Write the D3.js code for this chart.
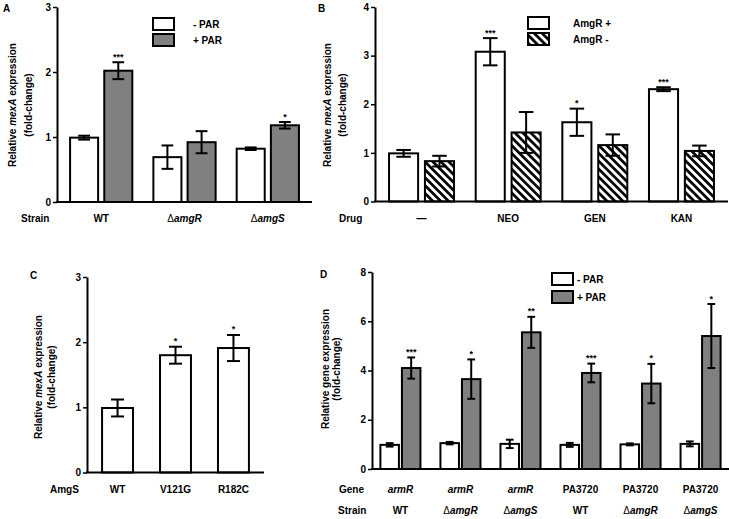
<!DOCTYPE html>
<html><head><meta charset="utf-8">
<script src="https://cdn.jsdelivr.net/npm/d3@7"></script>
<style>
body{margin:0;background:#fff}
svg text{font-family:"Liberation Sans",Arial,Helvetica,sans-serif;font-weight:bold;fill:#000}
</style></head><body>
<svg id="chart" width="729" height="519"></svg>
<script>
// ---------- DATA ----------
// Panel A
const catsA = ["WT", "ΔamgR", "ΔamgS"];
const minusParA = [0.99, 0.69, 0.82];
const minusParErrA = [0.03, 0.18, 0.02];
const minusParSigA = ["", "", ""];
const plusParA = [2.02, 0.92, 1.18];
const plusParErrA = [0.13, 0.17, 0.05];
const plusParSigA = ["***", "", "*"];
const ticksA = [0, 1, 2, 3];

// Panel B
const catsB = ["—", "NEO", "GEN", "KAN"];
const amgRPlusB = [0.99, 3.08, 1.63, 2.31];
const amgRPlusErrB = [0.07, 0.28, 0.28, 0.04];
const amgRPlusSigB = ["", "***", "*", "***"];
const amgRMinusB = [0.83, 1.42, 1.16, 1.04];
const amgRMinusErrB = [0.11, 0.42, 0.22, 0.11];
const amgRMinusSigB = ["", "", "", ""];
const ticksB = [0, 1, 2, 3, 4];

// Panel C
const catsC = ["WT", "V121G", "R182C"];
const valuesC = [0.99, 1.80, 1.91];
const errC = [0.13, 0.13, 0.20];
const sigC = ["", "*", "*"];
const ticksC = [0, 1, 2, 3];

// Panel D
const genesD = ["armR", "armR", "armR", "PA3720", "PA3720", "PA3720"];
const strainsD = ["WT", "ΔamgR", "ΔamgS", "WT", "ΔamgR", "ΔamgS"];
const minusParD = [0.98, 1.05, 1.02, 0.98, 1.00, 1.02];
const minusParErrD = [0.07, 0.05, 0.17, 0.08, 0.04, 0.10];
const minusParSigD = ["", "", "", "", "", ""];
const plusParD = [4.10, 3.65, 5.55, 3.90, 3.47, 5.40];
const plusParErrD = [0.43, 0.80, 0.63, 0.38, 0.80, 1.30];
const plusParSigD = ["***", "*", "**", "***", "*", "*"];
const ticksD = [0, 2, 4, 6, 8];

// ---------- DRAWING ----------
const svg = d3.select("#chart");
const defs = svg.append("defs");
const pat = defs.append("pattern").attr("id", "hatch")
  .attr("patternUnits", "userSpaceOnUse").attr("width", 5.6).attr("height", 5.6)
  .attr("patternTransform", "rotate(-45)");
pat.append("rect").attr("width", 5.6).attr("height", 5.6).attr("fill", "#fff");
pat.append("line").attr("x1", 1.4).attr("x2", 1.4).attr("y1", -1).attr("y2", 7)
  .attr("stroke", "#000").attr("stroke-width", 2.7);

const GRAY = "#808080";

function richText(sel, s, italic) {
  if (s.startsWith("Δ")) {
    sel.append("tspan").text("Δ").style("font-weight", "normal");
    sel.append("tspan").text(s.slice(1)).style("font-style", "italic");
  } else if (italic) {
    sel.append("tspan").text(s).style("font-style", "italic");
  } else {
    sel.append("tspan").text(s);
  }
}

function panel(o) {
  const g = svg.append("g");
  const idx = o.cats.map((d, i) => i);
  const x = d3.scaleBand().domain(idx).range([o.x0, o.x1])
    .paddingInner(o.pi).paddingOuter(o.po);
  const xs = d3.scaleBand().domain(o.series.map(s => s.name))
    .range([0, x.bandwidth()]).paddingInner(o.subPi);
  const y = d3.scaleLinear().domain([0, o.max]).range([o.yB, o.yT]);

  // bars
  o.series.forEach(s => {
    g.append("g").selectAll("rect").data(s.values).join("rect")
      .attr("x", (d, i) => x(i) + xs(s.name))
      .attr("y", d => y(d))
      .attr("width", xs.bandwidth())
      .attr("height", d => y(0) - y(d))
      .attr("fill", s.fill).attr("stroke", "#000").attr("stroke-width", 2);
  });
  // error bars + significance
  o.series.forEach(s => {
    const cw = xs.bandwidth() * o.cap;
    const eg = g.append("g").selectAll("g").data(s.values).join("g")
      .attr("transform", (d, i) => `translate(${x(i) + xs(s.name) + xs.bandwidth() / 2},0)`);
    eg.append("line").attr("x1", 0).attr("x2", 0)
      .attr("y1", (d, i) => y(d + s.errs[i])).attr("y2", (d, i) => y(d - s.errs[i]))
      .attr("stroke", "#000").attr("stroke-width", 2);
    eg.append("line").attr("x1", -cw / 2).attr("x2", cw / 2)
      .attr("y1", (d, i) => y(d + s.errs[i])).attr("y2", (d, i) => y(d + s.errs[i]))
      .attr("stroke", "#000").attr("stroke-width", 2);
    eg.append("line").attr("x1", -cw / 2).attr("x2", cw / 2)
      .attr("y1", (d, i) => y(d - s.errs[i])).attr("y2", (d, i) => y(d - s.errs[i]))
      .attr("stroke", "#000").attr("stroke-width", 2);
    eg.append("text").attr("text-anchor", "middle").attr("font-size", 9)
      .attr("y", (d, i) => y(d + s.errs[i]) - 2.5)
      .text((d, i) => s.sig[i]);
  });

  // axes
  const ya = g.append("g").attr("transform", `translate(${o.x0},0)`)
    .call(d3.axisLeft(y).tickValues(o.ticks).tickFormat(d3.format("d"))
      .tickSize(4).tickSizeOuter(0).tickPadding(2));
  ya.select(".domain").attr("stroke-width", 2);
  ya.selectAll(".tick line").attr("stroke-width", 1.5);
  ya.selectAll(".tick text").attr("font-size", 10)
    .style("font-family", "'Liberation Sans',Arial,sans-serif").style("font-weight", "bold");
  const xa = g.append("g").attr("transform", `translate(0,${o.yB})`)
    .call(d3.axisBottom(x).tickSize(0).tickSizeOuter(0).tickFormat(""));
  xa.select(".domain").attr("stroke-width", 2).attr("d", `M${o.x0 - 1},0H${o.x1}`);

  // category label rows
  o.rows.forEach(r => {
    g.append("text").attr("x", r.lx).attr("y", r.y).attr("font-size", 10)
      .attr("text-anchor", "start").text(r.title);
    g.append("g").selectAll("text").data(r.labels).join("text")
      .attr("x", (d, i) => x(i) + x.bandwidth() / 2).attr("y", r.y)
      .attr("text-anchor", "middle").attr("font-size", 10)
      .each(function (d) { richText(d3.select(this), d, r.italic && r.italic(d)); });
  });

  // y title
  const tt = g.append("text").attr("font-size", 10).attr("text-anchor", "middle")
    .attr("transform", `translate(${o.tx1 + 3.6},${o.tcy}) rotate(-90)`);
  o.title1.forEach(p => tt.append("tspan").text(p[0]).style("font-style", p[1] ? "italic" : "normal"));
  g.append("text").attr("font-size", 10).attr("text-anchor", "middle")
    .attr("transform", `translate(${o.tx2 + 3.6},${o.tcy}) rotate(-90)`).text("(fold-change)");

  // panel letter
  g.append("text").attr("x", o.lx).attr("y", o.ly).attr("font-size", 10).text(o.letter);

  // legend
  if (o.legend) {
    const L = o.legend;
    o.series.forEach((s, i) => {
      g.append("rect").attr("x", L.x).attr("y", L.y + i * L.dy).attr("width", 21).attr("height", 12)
        .attr("fill", s.fill).attr("stroke", "#000").attr("stroke-width", 2);
      g.append("text").attr("x", L.tx).attr("y", L.y + i * L.dy + 10).attr("font-size", 10)
        .text(s.name);
    });
  }
}

panel({
  letter: "A", lx: 3, ly: 12,
  x0: 57, x1: 312, pi: 0.253, po: 0.157, subPi: 0.18, cap: 0.42,
  yB: 202, yT: 7, max: 3, ticks: ticksA, cats: catsA,
  series: [
    { name: "- PAR", values: minusParA, errs: minusParErrA, sig: minusParSigA, fill: "#fff" },
    { name: "+ PAR", values: plusParA, errs: plusParErrA, sig: plusParSigA, fill: GRAY }
  ],
  rows: [{ title: "Strain", lx: 21, y: 222, labels: catsA }],
  title1: [["Relative ", 0], ["mexA", 1], [" expression", 0]], tx1: 12, tx2: 28, tcy: 105,
  legend: { x: 153, y: 18, dy: 16, tx: 193 }
});

panel({
  letter: "B", lx: 318, ly: 12,
  x0: 375, x1: 728, pi: 0.25, po: 0.162, subPi: 0.19, cap: 0.5,
  yB: 201.5, yT: 7, max: 4, ticks: ticksB, cats: catsB,
  series: [
    { name: "AmgR +", values: amgRPlusB, errs: amgRPlusErrB, sig: amgRPlusSigB, fill: "#fff" },
    { name: "AmgR -", values: amgRMinusB, errs: amgRMinusErrB, sig: amgRMinusSigB, fill: "url(#hatch)" }
  ],
  rows: [{ title: "Drug", lx: 339, y: 222, labels: catsB }],
  title1: [["Relative ", 0], ["mexA", 1], [" expression", 0]], tx1: 327, tx2: 342, tcy: 105,
  legend: { x: 528, y: 17, dy: 16, tx: 573 }
});

panel({
  letter: "C", lx: 30, ly: 279,
  x0: 87, x1: 264, pi: 0.466, po: 0.26, subPi: 0, cap: 0.42,
  yB: 472.5, yT: 277, max: 3, ticks: ticksC, cats: catsC,
  series: [
    { name: "AmgS", values: valuesC, errs: errC, sig: sigC, fill: "#fff" }
  ],
  rows: [{ title: "AmgS", lx: 50, y: 493, labels: catsC }],
  title1: [["Relative ", 0], ["mexA", 1], [" expression", 0]], tx1: 38, tx2: 51, tcy: 377
});

panel({
  letter: "D", lx: 320, ly: 278,
  x0: 372, x1: 729, pi: 0.333, po: 0.14, subPi: 0.14, cap: 0.42,
  yB: 469, yT: 272, max: 8, ticks: ticksD, cats: strainsD,
  series: [
    { name: "- PAR", values: minusParD, errs: minusParErrD, sig: minusParSigD, fill: "#fff" },
    { name: "+ PAR", values: plusParD, errs: plusParErrD, sig: plusParSigD, fill: GRAY }
  ],
  rows: [
    { title: "Gene", lx: 339, y: 493, labels: genesD, italic: d => d === "armR" },
    { title: "Strain", lx: 338, y: 514, labels: strainsD }
  ],
  title1: [["Relative gene expression", 0]], tx1: 325, tx2: 336, tcy: 369,
  legend: { x: 552, y: 273, dy: 18, tx: 577 }
});
</script>
</body></html>
